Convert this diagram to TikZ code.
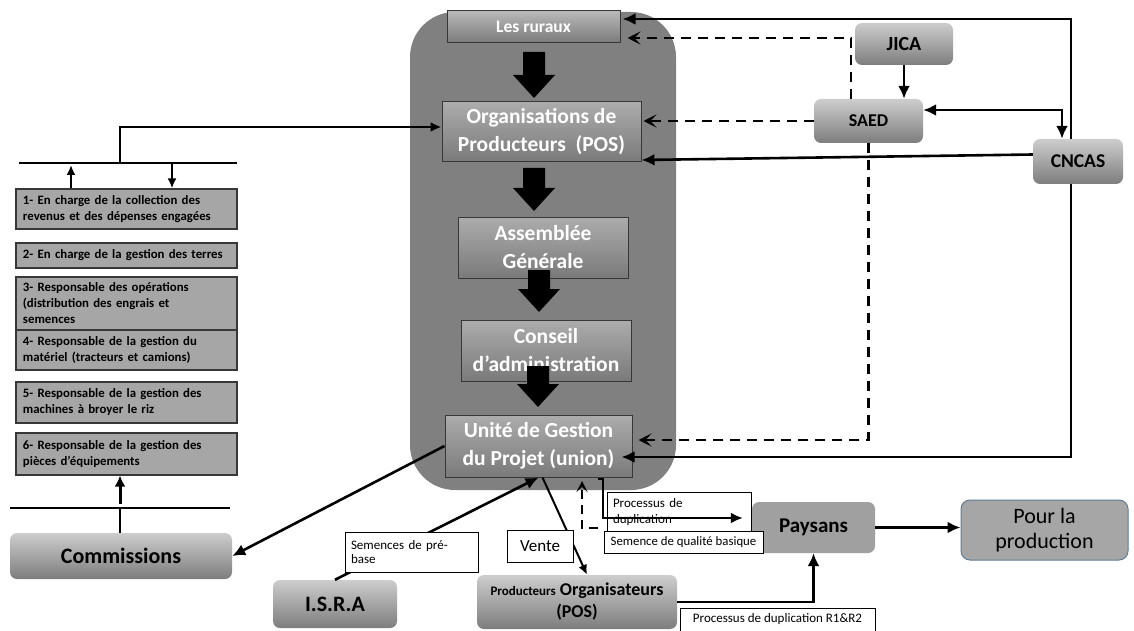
\documentclass[tikz,border=0pt]{standalone}
\usepackage{fontspec}
\setmainfont{Carlito}
\usetikzlibrary{arrows.meta}
\definecolor{bigbg}{RGB}{128,128,128}
\definecolor{inTop}{RGB}{172,172,172}
\definecolor{inBot}{RGB}{122,122,122}
\definecolor{ogTop}{RGB}{205,205,205}
\definecolor{ogBot}{RGB}{125,125,125}
\definecolor{leftFill}{RGB}{166,166,166}
\definecolor{boxLine}{RGB}{55,55,55}
\definecolor{paysFill}{RGB}{160,160,160}
\definecolor{pourLine}{RGB}{95,125,150}
\newcommand\blockarrow[3]{\fill[black] (#1-11,#2) -- (#1+11,#2) -- (#1+11,#3-23) -- (#1+21,#3-23) -- (#1,#3) -- (#1-21,#3-23) -- (#1-11,#3-23) -- cycle;}
\begin{document}
\begin{tikzpicture}[x=1pt,y=-1pt,
 inbox/.style={draw=boxLine, line width=1pt, top color=inTop, bottom color=inBot, text=white,
   font=\bfseries\fontsize{21.5}{28}\selectfont, align=center, inner sep=0pt},
 leftbox/.style={draw=boxLine, line width=1.2pt, fill=leftFill, font=\bfseries\fontsize{12.8}{16}\selectfont,
   align=left, text width=207pt, minimum width=221pt, inner xsep=7pt, inner ysep=0pt},
 orgbox/.style={rounded corners=7pt, top color=ogTop, bottom color=ogBot, font=\bfseries\fontsize{19.5}{22}\selectfont,
   inner sep=0pt, align=center},
 lbl/.style={draw=black, line width=0.8pt, fill=white, font=\fontsize{13}{16}\selectfont, inner xsep=6pt, inner ysep=0pt, align=left},
 conn/.style={line width=2.6pt, -{Latex[length=13pt,width=12pt]}},
 thinconn/.style={line width=2pt, -{Latex[length=10pt,width=9pt]}},
 dconn/.style={line width=2.6pt, dash pattern=on 10pt off 7pt, -{Stealth[length=13pt,width=13pt,inset=6pt]}},
 bus/.style={line width=2pt}
]
\useasboundingbox (0,0) rectangle (1134,631);
% big rounded background
\fill[bigbg, rounded corners=45pt] (410,12) rectangle (676,490);

% central boxes
\node[inbox, font=\bfseries\fontsize{17.5}{20}\selectfont, top color=ogTop!90!black, bottom color=inBot, minimum width=173pt, minimum height=32pt] (ruraux) at (533.5,27) {Les ruraux};
\node[inbox, minimum width=199pt, minimum height=60pt] (org) at (541.5,132) {Organisations de\\Producteurs\ \ (POS)};
\node[inbox, minimum width=170pt, minimum height=61pt] (ag) at (543,247.5) {Assemblée\\Générale};
\node[inbox, minimum width=170pt, minimum height=61pt] (ca) at (546,350.5) {Conseil\\d’administration};
\node[inbox, minimum width=187pt, minimum height=62pt] (ugp) at (538.5,446) {Unité de Gestion\\du Projet (union)};

% block arrows
\blockarrow{534}{52}{98}
\blockarrow{534}{168}{211}
\blockarrow{539}{270}{312}
\blockarrow{538}{366}{407}

% right partners
\node[orgbox, font=\bfseries\fontsize{20}{22}\selectfont, minimum width=98pt, minimum height=42pt] (jica) at (904,44) {JICA};
\node[orgbox, font=\bfseries\fontsize{18}{22}\selectfont, minimum width=109pt, minimum height=44pt] (saed) at (868.5,121) {SAED};
\node[orgbox, minimum width=90pt, minimum height=45pt] (cncas) at (1078,161.5) {CNCAS};

% left committee boxes
\node[leftbox, minimum height=40pt] (b1) at (126.5,209) {1- En charge de la collection des\\revenus et des dépenses engagées};
\node[leftbox, minimum height=25pt] (b2) at (126.5,255.5) {2- En charge de la gestion des terres};
\node[leftbox, minimum height=53pt] (b3) at (126.5,303.5) {3- Responsable des opérations\\(distribution des engrais et\\semences};
\node[leftbox, minimum height=40pt] (b4) at (126.5,350) {4- Responsable de la gestion du\\matériel (tracteurs et camions)};
\node[leftbox, minimum height=41pt] (b5) at (126.5,402.5) {5- Responsable de la gestion des\\machines à broyer le riz};
\node[leftbox, minimum height=42pt] (b6) at (126.5,454) {6- Responsable de la gestion des\\pièces d’équipements};

% bottom nodes
\node[orgbox, font=\bfseries\fontsize{22}{24}\selectfont, minimum width=222pt, minimum height=46pt] (comm) at (121,556) {Commissions};
\node[orgbox, font=\bfseries\fontsize{22}{24}\selectfont, minimum width=124pt, minimum height=48pt] (isra) at (335,604) {I.S.R.A};
\node[orgbox, font=\bfseries\fontsize{18}{22}\selectfont, minimum width=200pt, minimum height=54pt] (pos) at (577,602) {{\fontsize{13}{16}\selectfont Producteurs} Organisateurs\\(POS)};
\node[rounded corners=7pt, fill=paysFill, font=\bfseries\fontsize{21}{23}\selectfont, minimum width=123pt, minimum height=51pt, inner sep=0pt] (pays) at (813.5,527.5) {Paysans};
\node[rounded corners=9pt, fill=leftFill, draw=pourLine, line width=1pt, font=\fontsize{22}{25}\selectfont, align=center, minimum width=167pt, minimum height=60pt, inner sep=0pt] (pour) at (1044.5,530) {Pour la\\production};

% bus lines (left)
\coordinate (bus1l) at (19,163);
\coordinate (bus1r) at (237,163);
\coordinate (j1) at (120,163);
\draw[bus] (bus1l) -- (bus1r);
\coordinate (bus2l) at (10,508);
\coordinate (bus2r) at (230,508);
\coordinate (j2) at (120,508);
\coordinate (j2a) at (120,504);
\draw[bus] (bus2l) -- (bus2r);

% top-left connection
\draw[conn, line width=2.2pt, -{Latex[length=11pt,width=10pt]}] (j1) |- ([yshift=5pt]org.west);
\coordinate (u1) at (71,165);
\coordinate (d1) at (172,163);
\draw[thinconn] (b1.north -| u1) -- (u1);
\draw[thinconn] (d1) -- (b1.north -| d1);
% commissions to box 6
\draw[line width=1.5pt] (comm.north -| j2) -- (j2);
\draw[conn, line width=3pt, -{Latex[length=11pt,width=11pt]}] (j2a) -- (b6.south -| j2a);

% partner connectors
\draw[conn] ([xshift=-7pt]cncas.north) |- ([yshift=8pt,xshift=2pt]ruraux.east);
\draw[dconn] ([xshift=-17.5pt]saed.north) |- ([yshift=-11pt,xshift=7pt]ruraux.east);
\draw[conn] (jica.south) -- (jica.south |- saed.north);
\draw[line width=2.6pt, {Latex[length=13pt,width=12pt]}-{Latex[length=13pt,width=12pt]}] ([yshift=11pt]saed.east) -| ([xshift=-16pt]cncas.north);
\draw[dconn] (saed.west) -- ([xshift=2pt]org.east |- saed.west);
\draw[conn] ([yshift=7pt]cncas.west) -- ([yshift=-28pt]org.east);
\draw[dconn] (saed.south) |- ([yshift=6pt,xshift=6pt]ugp.east);
\draw[conn] ([xshift=-7pt]cncas.south) |- ([yshift=-11pt,xshift=-11pt]ugp.east);

% bottom connectors
\draw[conn] (ugp.west) -- (comm.east);
\draw[conn] (isra.north) -- (ugp.south);
\draw[thinconn] ([xshift=4pt]ugp.south) -- ([xshift=10pt]pos.north);
\draw[conn, line width=2.4pt] (pos.east) -| (pays.south);
\draw[conn] (pays.east) -- (pour.west |- pays.east);

% labels
\node[lbl, minimum width=133pt, minimum height=40pt, text width=121pt, font=\fontsize{13}{13.5}\selectfont] (lpb) at (411.5,552) {Semences de pré-\\base};
\node[lbl, minimum width=66pt, minimum height=32pt, font=\fontsize{17}{18}\selectfont, align=center] (lv) at (540,546) {Vente};
\node[lbl, minimum width=144pt, minimum height=40pt, text width=132pt] (lpd) at (679,512) {Processus de\\duplication};
\node[lbl, minimum width=159pt, minimum height=22pt, align=center, inner xsep=0pt, font=\fontsize{12.8}{14}\selectfont] (lsq) at (683.5,542) {Semence de qualité basique};
\node[lbl, minimum width=195pt, minimum height=23pt, align=center, inner xsep=0pt] (lr) at (777.5,619.5) {Processus de duplication R1\&R2};

% dashed up arrow and duplication arrow
\coordinate (dq) at (598,528);
\draw[line width=2.2pt, dash pattern=on 9pt off 6pt, -{Stealth[length=11pt,width=11pt,inset=5pt]}] (dq) -- (582,528) -- (582,481);
\coordinate (pdstart) at (598,479);
\draw[line width=2.2pt, -{Latex[length=12pt,width=11pt]}] (pdstart) -- (603,479) -- (603,518) -- ([xshift=-9pt]pays.west |- 0,518);
\end{tikzpicture}
\end{document}
